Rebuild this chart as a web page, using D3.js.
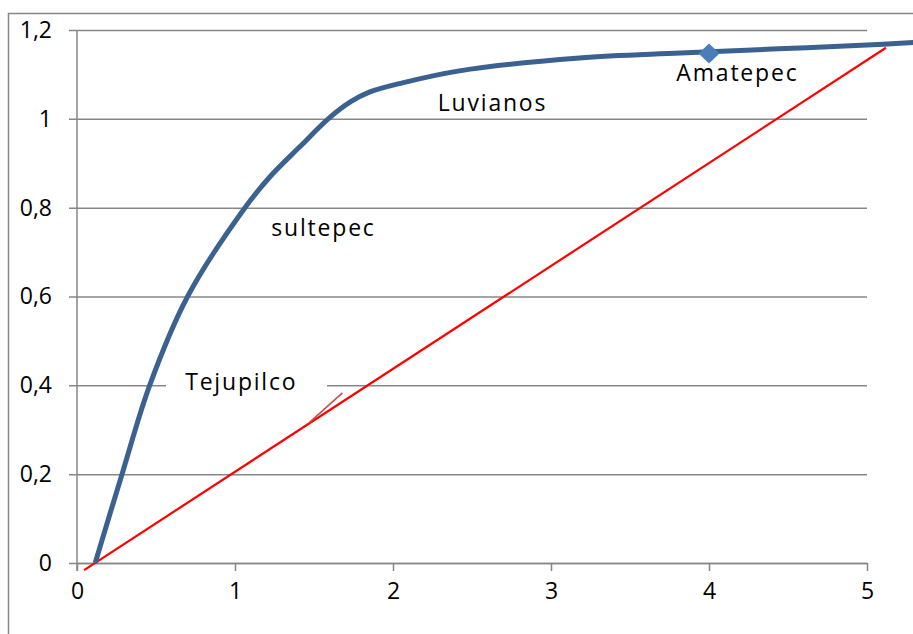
<!DOCTYPE html>
<html><head><meta charset="utf-8">
<script src="https://cdn.jsdelivr.net/npm/d3@7"></script>
<style>body{margin:0;background:#fff;}svg{display:block;font-family:"Open Sans",sans-serif;}</style>
</head><body>
<script>
// data
const xTicks = [0, 1, 2, 3, 4, 5];
const yTicks = [0, 0.2, 0.4, 0.6, 0.8, 1.0, 1.2];
const curveX = [0.115, 0.285, 0.46, 0.70, 1.063, 1.22, 1.41, 1.59, 1.73, 1.85, 2.06, 2.42, 3.18, 3.82, 4.4, 5.0, 5.3];
const curveY = [0.0, 0.2, 0.4, 0.6, 0.8, 0.869, 0.937, 1.0, 1.038, 1.06, 1.081, 1.108, 1.137, 1.148, 1.157, 1.166, 1.172];
const markerX = [4.0];
const markerY = [1.147];
const redX = [0.045, 5.12];
const redY = [-0.016, 1.16];
const stubX = [1.47, 1.68];
const stubY = [0.316, 0.383];
const labels = ["Luvianos", "Amatepec", "sultepec", "Tejupilco"];
const labelX = [2.63, 4.18, 1.56, 1.04];
const labelY = [1.0175, 1.085, 0.736, 0.389];

const W = 913, H = 634;
const svg = d3.select("body").append("svg").attr("width", W).attr("height", H);
const x = d3.scaleLinear().domain([0, 5]).range([77, 867]);
const y = d3.scaleLinear().domain([0, 1.2]).range([563, 30]);
const grid = "#878787";

// outer frame
svg.append("rect").attr("x", 8.5).attr("y", 13.5).attr("width", W + 20).attr("height", H + 20)
  .attr("fill", "none").attr("stroke", grid).attr("stroke-width", 1.5);

// horizontal gridlines (with y-axis ticks)
const yAxis = d3.axisLeft(y).tickValues(yTicks).tickSize(-(x(5) - x(0)) - 8)
  .tickFormat(d => d3.format(".1f")(d).replace(".", ",").replace(/,0$/, ""));
const gy = svg.append("g").attr("transform", `translate(${x(0) - 8},0)`).call(yAxis);
gy.select(".domain").remove();
gy.selectAll(".tick line").attr("stroke", grid).attr("stroke-width", 1.5);
gy.selectAll(".tick text").attr("x", -17).attr("fill", "#000")
  .style("font-size", "23px").style("font-family", "'Open Sans', sans-serif");

// x axis
const xAxis = d3.axisBottom(x).tickValues(xTicks).tickSize(8).tickSizeOuter(0).tickFormat(d3.format("d"));
const gx = svg.append("g").attr("transform", `translate(0,${y(0)})`).call(xAxis);
gx.select(".domain").attr("stroke", grid).attr("stroke-width", 1.5);
gx.selectAll(".tick line").attr("stroke", grid).attr("stroke-width", 1.5);
gx.selectAll(".tick text").attr("y", 20).attr("fill", "#000")
  .style("font-size", "23px").style("font-family", "'Open Sans', sans-serif");

// y axis line
svg.append("line").attr("x1", x(0)).attr("x2", x(0)).attr("y1", y(1.2)).attr("y2", y(0) + 8)
  .attr("stroke", grid).attr("stroke-width", 1.5);

// label background for Tejupilco (masks gridline)
svg.append("rect").attr("x", 166).attr("y", y(0.4) - 13).attr("width", 161).attr("height", 26).attr("fill", "#fff");

// red line
const line = d3.line().x(d => x(d[0])).y(d => y(d[1]));
svg.append("path").datum(redX.map((v, i) => [v, redY[i]])).attr("d", line)
  .attr("fill", "none").attr("stroke", "#ff0000").attr("stroke-width", 2.2);
svg.append("path").datum(stubX.map((v, i) => [v, stubY[i]])).attr("d", line)
  .attr("fill", "none").attr("stroke", "#c0504d").attr("stroke-width", 1.6);

// blue curve
const smooth = d3.line().x(d => x(d[0])).y(d => y(d[1])).curve(d3.curveCatmullRom.alpha(0.5));
svg.append("path").datum(curveX.map((v, i) => [v, curveY[i]])).attr("d", smooth)
  .attr("fill", "none").attr("stroke", "#3b6191").attr("stroke-width", 5).attr("stroke-linejoin", "round");

// marker
svg.selectAll(".mk").data(markerX.map((v, i) => [v, markerY[i]])).enter().append("path")
  .attr("transform", d => `translate(${x(d[0])},${y(d[1])})`)
  .attr("d", "M0,-10L10.5,0L0,10L-10.5,0Z").attr("fill", "#4a7ebb");

// labels
svg.selectAll(".lbl").data(labels).enter().append("text")
  .attr("x", (d, i) => x(labelX[i])).attr("y", (d, i) => y(labelY[i]))
  .attr("text-anchor", "middle").attr("fill", "#000")
  .style("font-size", "23px").style("letter-spacing", "1.8px").text(d => d);
</script>
</body></html>
